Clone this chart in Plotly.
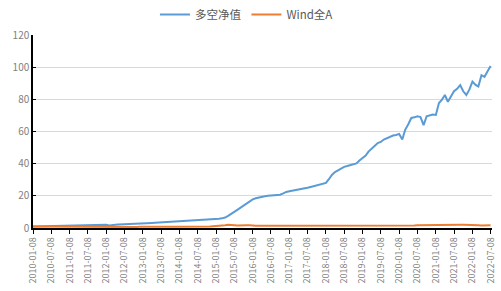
import pandas as pd
import plotly.graph_objects as go

# Monthly observation dates (8th of each month), 2010-01 .. 2022-07
dates = [d.strftime("%Y-%m-%d") for d in pd.date_range("2010-01-01", "2022-07-01", freq="MS") + pd.Timedelta(days=7)]

long_short = [
    1.00, 1.03, 1.06, 1.10, 1.12, 1.15, 1.20, 1.24, 1.28, 1.33, 1.38, 1.45,
    1.50, 1.52, 1.55, 1.58, 1.60, 1.63, 1.68, 1.72, 1.75, 1.80, 1.85, 1.90,
    2.05, 1.60, 1.95, 2.05, 2.10, 2.15, 2.25, 2.30, 2.35, 2.45, 2.55, 2.65,
    2.80, 2.90, 3.00, 3.10, 3.20, 3.30, 3.40, 3.50, 3.60, 3.70, 3.80, 3.90,
    4.00, 4.10, 4.20, 4.35, 4.50, 4.60, 4.75, 4.90, 5.00, 5.15, 5.30, 5.45,
    5.60, 5.70, 6.00, 6.50, 7.50, 9.00, 10.0, 11.3, 12.6, 14.0, 15.2, 16.5,
    17.8, 18.5, 19.0, 19.4, 19.7, 20.0, 20.2, 20.4, 20.5, 20.7, 21.5, 22.4,
    22.8, 23.1, 23.5, 23.8, 24.2, 24.6, 25.0, 25.5, 26.0, 26.5, 27.0, 27.5,
    28.0, 30.5, 33.0, 34.8, 36.0, 37.1, 38.0, 38.5, 39.0, 39.8, 40.2, 42.0,
    43.5, 45.0, 47.5, 49.0, 51.0, 52.8, 53.5, 55.0, 56.0, 56.8, 57.5, 57.8,
    58.5, 55.0, 61.0, 64.5, 68.4, 68.8, 69.5, 69.0, 64.0, 69.5, 70.0, 70.5,
    70.3, 77.7, 79.6, 82.7, 78.5, 82.0, 85.0, 86.5, 88.9, 85.0, 82.7, 86.0,
    91.0, 89.0, 88.0, 95.0, 94.0, 97.5, 100.7,
]

wind_a = [
    1.00, 0.98, 1.00, 0.95, 0.85, 0.80, 0.85, 0.88, 0.90, 1.00, 1.00, 0.98,
    0.98, 1.00, 1.02, 1.00, 0.95, 0.94, 0.92, 0.88, 0.82, 0.85, 0.82, 0.76,
    0.78, 0.82, 0.80, 0.83, 0.84, 0.78, 0.74, 0.72, 0.70, 0.70, 0.68, 0.75,
    0.80, 0.82, 0.78, 0.78, 0.82, 0.72, 0.75, 0.78, 0.82, 0.84, 0.85, 0.82,
    0.80, 0.82, 0.80, 0.80, 0.80, 0.82, 0.86, 0.88, 0.92, 0.95, 1.00, 1.12,
    1.18, 1.25, 1.45, 1.75, 2.00, 2.10, 1.75, 1.55, 1.45, 1.60, 1.65, 1.70,
    1.40, 1.35, 1.45, 1.45, 1.42, 1.45, 1.48, 1.50, 1.48, 1.50, 1.52, 1.48,
    1.48, 1.50, 1.50, 1.46, 1.44, 1.46, 1.50, 1.52, 1.54, 1.55, 1.52, 1.50,
    1.55, 1.45, 1.42, 1.40, 1.38, 1.30, 1.28, 1.22, 1.22, 1.12, 1.15, 1.10,
    1.15, 1.30, 1.42, 1.45, 1.35, 1.37, 1.37, 1.38, 1.40, 1.40, 1.40, 1.48,
    1.52, 1.50, 1.40, 1.45, 1.45, 1.52, 1.75, 1.80, 1.75, 1.80, 1.85, 1.92,
    1.95, 1.95, 1.88, 1.90, 1.95, 1.98, 1.95, 2.00, 1.98, 1.95, 1.98, 1.98,
    1.85, 1.80, 1.70, 1.55, 1.60, 1.72, 1.72,
]

tick_labels = [f"{y}-{m}-08" for y in range(2010, 2023) for m in ("01", "07")][:26]

fig = go.Figure()
fig.add_trace(go.Scatter(x=dates, y=long_short, mode="lines", name="多空净值",
                         line=dict(color="#5B9BD5", width=2)))
fig.add_trace(go.Scatter(x=dates, y=wind_a, mode="lines", name="Wind全A",
                         line=dict(color="#ED7D31", width=2)))

font_fam = "Noto Sans CJK SC, Noto Sans, sans-serif"
fig.update_layout(
    width=501, height=291,
    margin=dict(l=33, r=9, t=35, b=63, autoexpand=False),
    plot_bgcolor="white", paper_bgcolor="white",
    font=dict(family=font_fam, size=10, color="#595959"),
    showlegend=True,
    legend=dict(orientation="h", x=0.465, xanchor="center", y=1.0, yanchor="top",
                yref="container", font=dict(size=11.5, color="#595959"),
                itemwidth=30, bgcolor="rgba(0,0,0,0)"),
    xaxis=dict(
        type="date",
        range=["2010-01-08", "2022-07-22"],
        tickmode="array", tickvals=tick_labels, ticktext=tick_labels,
        tickangle=-90, tickfont=dict(size=9, color="#7F7F7F"),
        showgrid=False, showline=True, linecolor="black", linewidth=1.5,
        ticks="outside", ticklen=4, tickcolor="black",
    ),
    yaxis=dict(
        range=[0, 120], dtick=20, tickfont=dict(size=10, color="#7F7F7F"),
        showgrid=True, gridcolor="#D9D9D9", gridwidth=1,
        showline=True, linecolor="black", linewidth=1.5,
        ticks="inside", ticklen=3, tickcolor="black", zeroline=False,
    ),
)

fig.write_html("out.html")
